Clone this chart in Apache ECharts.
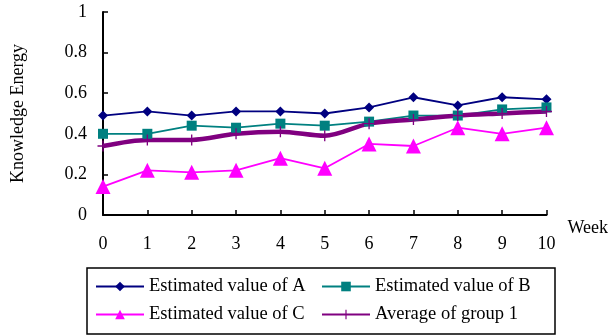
<!DOCTYPE html>
<html>
<head>
<meta charset="utf-8">
<script src="https://cdn.jsdelivr.net/npm/echarts@6/dist/echarts.min.js"></script>
<style>
html,body{margin:0;padding:0;background:#fff;}
#chart{width:611px;height:335px;}
</style>
</head>
<body>
<div id="chart"></div>
<script>
const weeks = ['0','1','2','3','4','5','6','7','8','9','10'];
const yTicks = [0, 0.2, 0.4, 0.6, 0.8, 1];
const valuesA = [0.49, 0.51, 0.49, 0.51, 0.51, 0.50, 0.53, 0.58, 0.54, 0.58, 0.57];
const valuesB = [0.40, 0.40, 0.44, 0.43, 0.45, 0.44, 0.46, 0.49, 0.49, 0.52, 0.53];
const valuesC = [0.14, 0.22, 0.21, 0.22, 0.28, 0.23, 0.35, 0.34, 0.43, 0.40, 0.43];
const valuesAvg = [0.34, 0.37, 0.37, 0.40, 0.41, 0.39, 0.45, 0.47, 0.49, 0.50, 0.51];
const seriesNames = ['Estimated value of A', 'Estimated value of B', 'Estimated value of C', 'Average of group 1'];

const FONT = 'Liberation Serif';
const plus = 'path://M-0.12,-1H0.12V-0.12H1V0.12H0.12V1H-0.12V0.12H-1V-0.12H-0.12Z';

const chart = echarts.init(document.getElementById('chart'), null, {renderer: 'canvas'});
chart.setOption({
  animation: false,
  backgroundColor: '#fff',
  textStyle: {fontFamily: FONT, color: '#000'},
  grid: {left: 103, right: 64, top: 12, bottom: 120, containLabel: false},
  xAxis: {
    type: 'category',
    data: weeks,
    boundaryGap: false,
    name: 'Week',
    nameLocation: 'end',
    nameGap: 21,
    nameTextStyle: {fontFamily: FONT, fontSize: 18, color: '#000', verticalAlign: 'top', lineHeight: 18, padding: [4, 0, 0, 0]},
    axisLine: {lineStyle: {color: '#000', width: 2}},
    axisTick: {inside: true, length: 5, lineStyle: {color: '#000', width: 1.5}},
    axisLabel: {fontFamily: FONT, fontSize: 18, color: '#000', margin: 20},
    splitLine: {show: false}
  },
  yAxis: {
    type: 'value',
    min: yTicks[0],
    max: yTicks[yTicks.length - 1],
    interval: 0.2,
    name: 'Knowledge Energy',
    nameLocation: 'middle',
    nameGap: 76,
    nameTextStyle: {fontFamily: FONT, fontSize: 18, color: '#000'},
    axisLine: {show: true, lineStyle: {color: '#000', width: 2}},
    axisTick: {show: true, inside: true, length: 5, lineStyle: {color: '#000', width: 1.5}},
    axisLabel: {fontFamily: FONT, fontSize: 18, color: '#000', margin: 16,
      formatter: v => String(Math.round(v * 10) / 10)},
    splitLine: {show: false}
  },
  legend: {
    left: 87,
    top: 268,
    width: 445,
    orient: 'horizontal',
    padding: [9, 17, 10, 8],
    itemGap: 9,
    itemWidth: 48,
    itemHeight: 12,
    borderColor: '#000',
    borderWidth: 1.5,
    borderRadius: 0,
    textStyle: {fontFamily: FONT, fontSize: 18.5, color: '#000', width: 163, lineHeight: 18},
    data: seriesNames
  },
  series: [
    {
      name: seriesNames[0], type: 'line', data: valuesA,
      symbol: 'diamond', symbolSize: 10,
      lineStyle: {color: '#000080', width: 1.8},
      itemStyle: {color: '#000080'}
    },
    {
      name: seriesNames[1], type: 'line', data: valuesB,
      symbol: 'rect', symbolSize: 10,
      lineStyle: {color: '#008080', width: 1.8},
      itemStyle: {color: '#008080'}
    },
    {
      name: seriesNames[2], type: 'line', data: valuesC,
      symbol: 'triangle', symbolSize: 15,
      lineStyle: {color: '#FF00FF', width: 1.8},
      itemStyle: {color: '#FF00FF'}
    },
    {
      name: seriesNames[3], type: 'line', data: valuesAvg,
      symbol: plus, symbolSize: 11, smooth: 0.3,
      lineStyle: {color: '#800080', width: 4.5},
      itemStyle: {color: '#800080'}
    }
  ]
});
</script>
</body>
</html>
